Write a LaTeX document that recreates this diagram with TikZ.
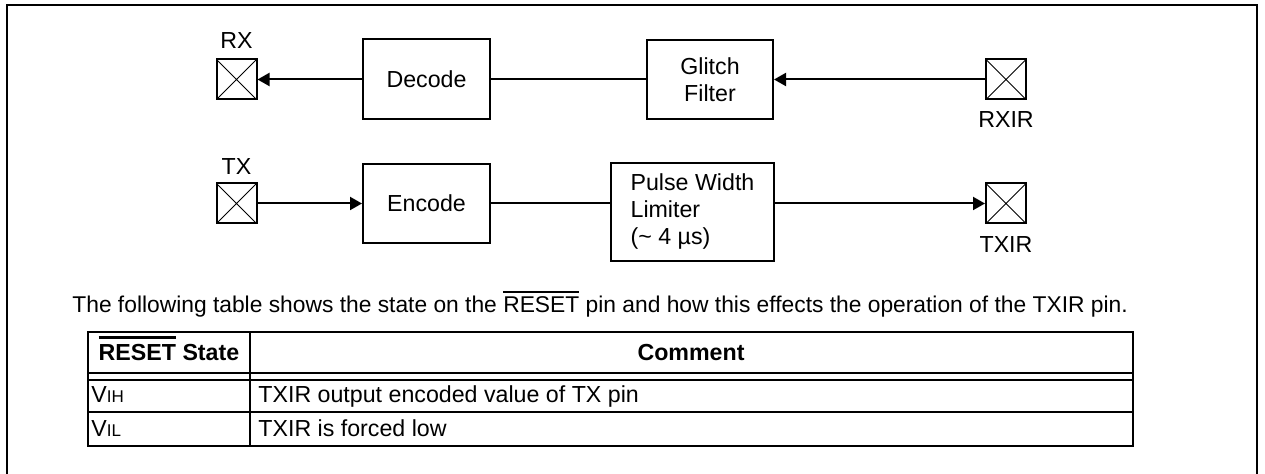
\documentclass[tikz,border=0pt]{standalone}
\usepackage{fontspec}
\setmainfont{Liberation Sans}
\usepackage{tikz}
\usetikzlibrary{arrows.meta, positioning}
\newcommand{\barred}[3][0.9pt]{\vbox{\hrule height #1\kern #2\hbox{#3}}}
\tikzstyle{block} = [rectangle, draw = black, line width = 1pt, inner sep = 0pt, align = center, font = \fontsize{11.6}{13.5}\selectfont]
\tikzstyle{pad} = [rectangle, draw = black, line width = 1pt, minimum size = 20pt, inner sep = 0pt, path picture = {\draw[line width = 0.5pt] (path picture bounding box.south west) -- (path picture bounding box.north east) (path picture bounding box.north west) -- (path picture bounding box.south east);}]
\tikzstyle{lbl} = [inner sep = 0pt, font = \fontsize{11.6}{13.5}\selectfont]
\tikzstyle{txt} = [inner sep = 0pt, font = \fontsize{11.6}{13.5}\selectfont]
\tikzstyle{wire} = [line width = 1pt, -{Triangle[length = 6pt, width = 6.5pt]}]
\tikzstyle{rule} = [line width = 1pt]

\begin{document}
\begin{tikzpicture}[x = 0.5pt, y = -0.5pt]
	\useasboundingbox (0,0) rectangle (1265,474);
	\draw [line width = 0.9pt] (7,474) -- (7,5) -- (1257,5) -- (1257,474);

	% receive path
	\node (rx)[pad] at (236.5,79.5) {};
	\node (rxlbl)[lbl, above = 5pt of rx]{RX};
	\node (decode)[block, minimum width = 63.5pt, minimum height = 40pt] at (426.5,79.5) {Decode};
	\node (glitch)[block, minimum width = 63pt, minimum height = 39.5pt] at (710,79.5) {Glitch\\Filter};
	\node (rxir)[pad] at (1006,79.5) {};
	\node (rxirlbl)[lbl, below = 5.5pt of rxir]{RXIR};

	% transmit path
	\node (tx)[pad] at (236.5,203.5) {};
	\node (txlbl)[lbl, above = 4pt of tx]{TX};
	\node (encode)[block, minimum width = 63.5pt, minimum height = 39.5pt] at (426.5,203.5) {Encode};
	\node (pwl)[block, minimum width = 81.5pt, minimum height = 49pt, align = left] at (692.5,212) {Pulse Width\\Limiter\\(\textasciitilde{} 4 µs)};
	\node (txir)[pad] at (1006,203.5) {};
	\node (txirlbl)[lbl, below = 6pt of txir]{TXIR};

	\draw [wire] (decode) -- (rx);
	\draw [rule] (decode) -- (glitch);
	\draw [wire] (rxir) -- (glitch);

	\draw [wire] (tx) -- (encode);
	\draw [rule] (encode) -- (encode -| pwl.west);
	\draw [wire] (pwl.east |- txir) -- (txir);

	% note and table
	\node (note)[txt, anchor = base west, font = \fontsize{11.4}{13.5}\selectfont] at (72,312.5) {The following table shows the state on the \barred[0.6pt]{2pt}{RESET} pin and how this effects the operation of the TXIR pin.};

	\draw [rule] (88,332) rectangle (1133,446);
	\draw [rule] (250,332) -- (250,446);
	\draw [rule] (88,373) -- (1133,373);
	\draw [rule] (88,380) -- (1133,380);
	\draw [rule] (88,412) -- (1133,412);

	\node (hstate)[txt, anchor = base, font = \fontsize{11.6}{13.5}\selectfont\bfseries] at (169,361) {\barred[1.2pt]{3pt}{RESET} State};
	\node (hcomment)[txt, anchor = base, font = \fontsize{11.6}{13.5}\selectfont\bfseries] at (691,361) {Comment};
	\node (vih)[txt, anchor = base west] at (91,403) {V{\fontsize{8.5}{10}\selectfont IH}};
	\node (vihtext)[txt, anchor = base west] at (258,403) {TXIR output encoded value of TX pin};
	\node (vil)[txt, anchor = base west] at (91,436.5) {V{\fontsize{8.5}{10}\selectfont IL}};
	\node (viltext)[txt, anchor = base west] at (258,436.5) {TXIR is forced low};
\end{tikzpicture}
\end{document}
